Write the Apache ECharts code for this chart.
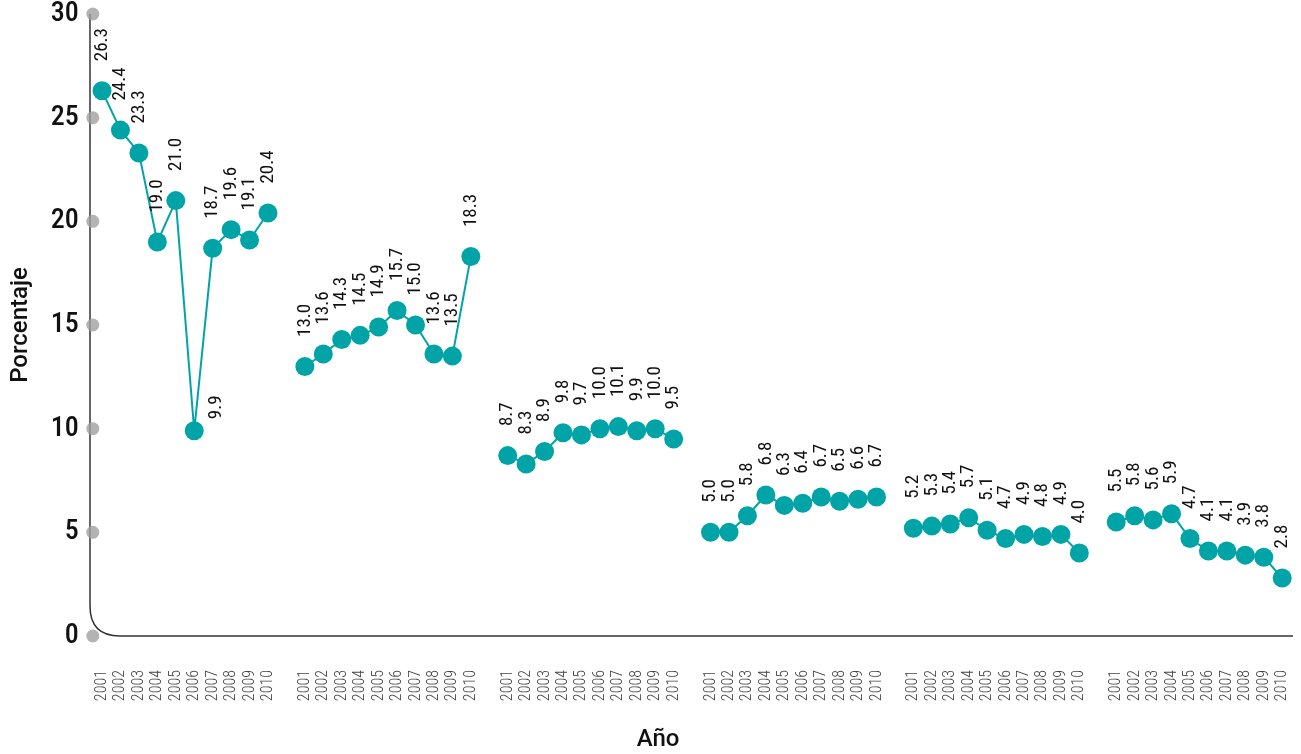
<!DOCTYPE html>
<html><head><meta charset="utf-8">
<script src="https://cdn.jsdelivr.net/npm/echarts@6/dist/echarts.min.js"></script>
<style>html,body{margin:0;padding:0;background:#fff}#c{width:1301px;height:754px}</style>
</head><body><div id="c"></div>
<script>
const years = ['2001','2002','2003','2004','2005','2006','2007','2008','2009','2010'];
const group1 = [26.3, 24.4, 23.3, 19.0, 21.0, 9.9, 18.7, 19.6, 19.1, 20.4];
const group2 = [13.0, 13.6, 14.3, 14.5, 14.9, 15.7, 15.0, 13.6, 13.5, 18.3];
const group3 = [8.7, 8.3, 8.9, 9.8, 9.7, 10.0, 10.1, 9.9, 10.0, 9.5];
const group4 = [5.0, 5.0, 5.8, 6.8, 6.3, 6.4, 6.7, 6.5, 6.6, 6.7];
const group5 = [5.2, 5.3, 5.4, 5.7, 5.1, 4.7, 4.9, 4.8, 4.9, 4.0];
const group6 = [5.5, 5.8, 5.6, 5.9, 4.7, 4.1, 4.1, 3.9, 3.8, 2.8];
const yTicks = [0, 5, 10, 15, 20, 25, 30];

const groups = [group1, group2, group3, group4, group5, group6];
const categories = [];
const values = [];
groups.forEach((g, gi) => {
  if (gi > 0) { categories.push(' '); values.push('-'); }
  years.forEach((y, i) => {
    categories.push(y + '_' + gi);
    const item = { value: g[i] };
    if (gi === 0 && i === 5) {
      item.label = { offset: [-18, 22] };
    }
    values.push(item);
  });
});

const TEAL = '#00A4A6';
const FONT = "'Roboto Condensed','Liberation Sans Narrow','DejaVu Sans Condensed',sans-serif";
const chart = echarts.init(document.getElementById('c'));
chart.setOption({
  animation: false,
  grid: { left: 92.8, right: 9.6, top: 14, bottom: 118, containLabel: false, outerBoundsMode: 'none' },
  xAxis: [{
    type: 'category', data: categories, boundaryGap: true,
    axisLine: { show: false }, axisTick: { show: false },
    axisLabel: {
      interval: 0, rotate: 90, margin: 34,
      formatter: v => v.trim() === '' ? '' : v.split('_')[0],
      color: '#444', fontFamily: FONT, fontWeight: 300, fontSize: 16
    },
    name: 'Año', nameLocation: 'middle', nameGap: 92,
    nameTextStyle: { fontFamily: 'Roboto', fontSize: 24, fontWeight: 500, color: '#111', padding: [0, 68, 0, 0] }
  }, {
    type: 'value', min: 0, max: 1, show: false
  }],
  yAxis: {
    type: 'value', min: 0, max: 30, interval: 5,
    axisLine: { show: false }, axisTick: { show: false }, splitLine: { show: false },
    axisLabel: { margin: 14, color: '#111', fontFamily: FONT, fontSize: 28, fontWeight: 500 },
    name: 'Porcentaje', nameLocation: 'middle', nameGap: 60, nameRotate: 90,
    nameTextStyle: { fontFamily: 'Roboto', fontSize: 24, fontWeight: 500, color: '#111' }
  },
  series: [{
    type: 'scatter', xAxisIndex: 1,
    data: yTicks.map(t => [0, t]),
    symbolSize: 13, itemStyle: { color: '#a0a0a0' }, silent: true, z: 3
  }, {
    type: 'line', data: values, connectNulls: false,
    symbol: 'circle', symbolSize: 19,
    lineStyle: { color: TEAL, width: 2 },
    itemStyle: { color: TEAL },
    label: {
      show: true, position: 'top', rotate: 90, distance: 20,
      align: 'left', verticalAlign: 'middle',
      formatter: p => p.value.toFixed(1),
      fontFamily: FONT, fontSize: 19, color: '#111'
    },
    z: 4
  }]
});

function drawFrame() {
  const top = chart.convertToPixel({ yAxisIndex: 0 }, 30);
  const y0 = chart.convertToPixel({ yAxisIndex: 0 }, 0);
  const rightEdge = chart.getWidth() - 8;
  const xL = 90, r = 30;
  const st = { stroke: '#333', lineWidth: 1.5, fill: null };
  chart.setOption({
    graphic: [
      { type: 'line', z: 1, silent: true, shape: { x1: xL, y1: top, x2: xL, y2: y0 - r }, style: st },
      { type: 'bezierCurve', z: 1, silent: true, shape: { x1: xL, y1: y0 - r, cpx1: xL, cpy1: y0, x2: xL + r, y2: y0 }, style: st },
      { type: 'line', z: 1, silent: true, shape: { x1: xL + r, y1: y0, x2: rightEdge, y2: y0 }, style: st }
    ]
  });
}
drawFrame();
</script></body></html>
